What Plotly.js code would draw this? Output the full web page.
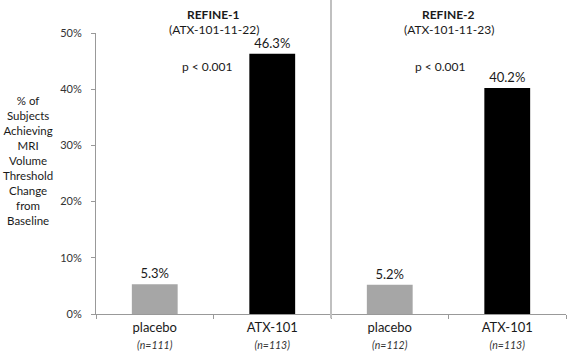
<!DOCTYPE html>
<html>
<head>
<meta charset="utf-8">
<script src="https://cdn.plot.ly/plotly-3.0.1.min.js"></script>
<style>html,body{margin:0;padding:0;background:#fff;}#chart{width:567px;height:357px;}</style>
</head>
<body>
<div id="chart"></div>
<script>
// Data
const categories = ["placebo", "ATX-101", "placebo", "ATX-101"];
const sampleSizes = ["(n=111)", "(n=113)", "(n=112)", "(n=113)"];
const values = [5.3, 46.3, 5.2, 40.2];
const barColors = ["#a6a6a6", "#000000", "#a6a6a6", "#000000"];
const studies = ["REFINE-1", "REFINE-2"];
const studyIds = ["(ATX-101-11-22)", "(ATX-101-11-23)"];
const pValues = ["p < 0.001", "p < 0.001"];
const yTicks = [0, 10, 20, 30, 40, 50];
const yTitleLines = ["% of", "Subjects", "Achieving", "MRI", "Volume", "Threshold", "Change", "from", "Baseline"];

const FONT = "Lato, 'Open Sans', sans-serif";
const positions = categories.map((c, i) => i);
const boundaries = [-0.5, 0.5, 1.5, 2.5, 3.5];

const traces = [
  {
    type: "bar",
    x: positions,
    y: values,
    marker: { color: barColors, line: { width: 0 } },
    text: values.map(v => v.toFixed(1) + "%"),
    textposition: "outside",
    textfont: { family: FONT, size: 13, color: "#1a1a1a" },
    cliponaxis: false,
    hoverinfo: "skip",
    showlegend: false,
    xaxis: "x",
    yaxis: "y"
  },
  {
    type: "scatter",
    x: positions,
    y: values.map(() => null),
    mode: "markers",
    xaxis: "x2",
    yaxis: "y",
    showlegend: false,
    hoverinfo: "skip"
  }
];

const annotations = [];
// Study headers
[0.5, 2.5].forEach((xc, i) => {
  annotations.push({
    xref: "x", yref: "paper", x: xc, y: 1.067, yanchor: "middle",
    text: "<b>" + studies[i] + "</b>", showarrow: false,
    font: { family: FONT, size: 12, color: "#1a1a1a" }
  });
  annotations.push({
    xref: "x", yref: "paper", x: xc, y: 1.014, yanchor: "middle",
    text: studyIds[i], showarrow: false,
    font: { family: FONT, size: 12, color: "#1a1a1a" }
  });
});
// p-values
annotations.push({
  xref: "x", yref: "y", x: 0.445, y: 44.0, text: pValues[0], showarrow: false,
  font: { family: FONT, size: 12, color: "#1a1a1a" }
});
annotations.push({
  xref: "x", yref: "y", x: 2.43, y: 44.0, text: pValues[1], showarrow: false,
  font: { family: FONT, size: 12, color: "#1a1a1a" }
});
// Y axis title
annotations.push({
  xref: "paper", yref: "paper", x: -0.145, y: 0.547, xanchor: "center", yanchor: "middle",
  text: yTitleLines.join("<br>"), showarrow: false, align: "center",
  font: { family: FONT, size: 11.5, color: "#1a1a1a" }
});

const layout = {
  width: 567,
  height: 357,
  margin: { l: 96, r: 1, t: 33, b: 43 },
  paper_bgcolor: "#ffffff",
  plot_bgcolor: "#ffffff",
  bargap: 0.61,
  font: { family: FONT, color: "#1a1a1a" },
  xaxis: {
    range: [-0.5, 3.5],
    tickmode: "array",
    tickvals: boundaries,
    ticks: "outside",
    ticklen: 4,
    tickcolor: "#999999",
    showticklabels: false,
    showline: true,
    linecolor: "#999999",
    linewidth: 1,
    showgrid: false,
    zeroline: false,
    fixedrange: true
  },
  xaxis2: {
    overlaying: "x",
    anchor: "y",
    side: "bottom",
    range: [-0.5, 3.5],
    tickmode: "array",
    tickvals: positions,
    ticktext: categories.map((c, i) => c + "<br><i><span style='font-size:10.5px;color:#333333'>" + sampleSizes[i] + "</span></i>"),
    ticks: "",
    ticklabelstandoff: 4,
    showline: false,
    showgrid: false,
    zeroline: false,
    tickfont: { family: FONT, size: 13, color: "#1a1a1a" },
    fixedrange: true
  },
  yaxis: {
    range: [0, 50],
    tickmode: "array",
    tickvals: yTicks,
    ticktext: yTicks.map(v => v + "%"),
    ticks: "outside",
    ticklen: 4,
    tickcolor: "#999999",
    ticklabelstandoff: 7,
    showline: true,
    linecolor: "#999999",
    linewidth: 1,
    showgrid: false,
    zeroline: false,
    tickfont: { family: FONT, size: 11, color: "#333333" },
    fixedrange: true
  },
  shapes: [
    {
      type: "line", xref: "x", yref: "paper",
      x0: 1.5, x1: 1.5, y0: -0.015, y1: 1.15,
      line: { color: "#c0c0c0", width: 2 }
    }
  ],
  annotations: annotations,
  showlegend: false
};

Plotly.newPlot("chart", traces, layout, { displayModeBar: false, staticPlot: true });
</script>
</body>
</html>
